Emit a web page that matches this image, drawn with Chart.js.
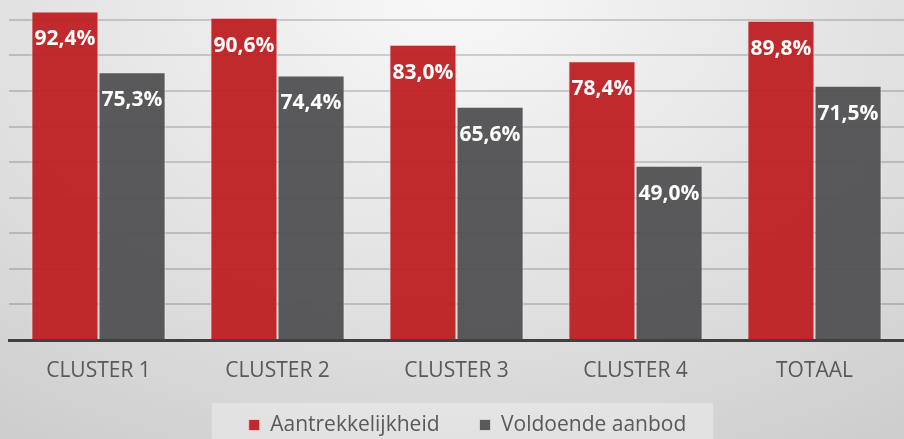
<!DOCTYPE html>
<html>
<head>
<meta charset="utf-8">
<script src="https://cdn.jsdelivr.net/npm/chart.js@4"></script>
<style>
  html, body { margin: 0; padding: 0; }
  body {
    width: 904px; height: 439px; overflow: hidden;
    background: radial-gradient(ellipse 95% 130% at 50% 0%, #f8f8f8 0%, #e0e0e0 55%, #c9c9c9 100%);
  }
  #wrap { position: relative; width: 904px; height: 439px; }
</style>
</head>
<body>
<div id="wrap"><canvas id="chart1"></canvas></div>
<script>
const categories = ['CLUSTER 1', 'CLUSTER 2', 'CLUSTER 3', 'CLUSTER 4', 'TOTAAL'];
const aantrekkelijkheid = [92.4, 90.6, 83.0, 78.4, 89.8];
const voldoendeAanbod = [75.3, 74.4, 65.6, 49.0, 71.5];
const seriesNames = ['Aantrekkelijkheid', 'Voldoende aanbod'];

const red = 'rgba(190, 30, 32, 0.94)';
const grey = 'rgba(80, 80, 82, 0.94)';
const textGrey = '#595959';
const font = '"Open Sans", "DejaVu Sans", sans-serif';

function pct(v) {
    return v.toFixed(1).replace('.', ',') + '%';
}

// white labels inside the top of each bar
const barLabels = {
    id: 'barLabels',
    afterDraw(chart) {
        const ctx = chart.ctx;
        ctx.save();
        ctx.fillStyle = '#ffffff';
        ctx.font = 'bold 21px ' + font;
        ctx.textAlign = 'center';
        ctx.textBaseline = 'middle';
        chart.data.datasets.forEach((ds, i) => {
            chart.getDatasetMeta(i).data.forEach((bar, j) => {
                ctx.fillText(pct(ds.data[j]), bar.x, bar.y + 28);
            });
        });
        ctx.restore();
    }
};

// legend sits a little right of centre and higher up, on a lighter panel
const legendPanel = {
    id: 'legendPanel',
    afterLayout(chart) {
        const lg = chart.legend;
        lg.left += 11;
        lg.right += 11;
        const h = lg.height;
        lg.top = 374.5;
        lg.bottom = lg.top + h;
    },
    beforeDraw(chart) {
        const lg = chart.legend;
        if (!lg || !lg.legendHitBoxes || !lg.legendHitBoxes.length) return;
        const boxes = lg.legendHitBoxes;
        const first = boxes[0], last = boxes[boxes.length - 1];
        const ctx = chart.ctx;
        ctx.save();
        ctx.fillStyle = 'rgba(255,255,255,0.32)';
        ctx.fillRect(first.left - 37, 403, (last.left + last.width + 27) - (first.left - 37), 40);
        ctx.restore();
    }
};

new Chart(document.getElementById('chart1'), {
    type: 'bar',
    data: {
        labels: categories,
        datasets: [
            { label: seriesNames[0], data: aantrekkelijkheid, backgroundColor: red, borderColor: 'rgba(255,210,210,0.8)', borderWidth: 1 },
            { label: seriesNames[1], data: voldoendeAanbod, backgroundColor: grey, borderColor: 'rgba(235,235,235,0.7)', borderWidth: 1 }
        ]
    },
    options: {
        responsive: true,
        maintainAspectRatio: false,
        animation: false,
        layout: { padding: { left: 9, right: 0, top: 0, bottom: -17 } },
        datasets: { bar: { barPercentage: 1.0, categoryPercentage: 0.75 } },
        scales: {
            x: {
                grid: { display: false, drawTicks: false },
                border: { display: true, color: '#404040', width: 3 },
                ticks: { color: textGrey, font: { family: font, size: 21 }, padding: 18 },
                afterFit(scale) { scale.height = 45; }
            },
            y: {
                min: 0,
                max: 95.6,
                z: 1,
                ticks: { display: false, stepSize: 10 },
                border: { display: false },
                grid: {
                    drawTicks: false,
                    tickLength: 0,
                    lineWidth: 2,
                    color: (c) => (c.tick && c.tick.value > 0 && c.tick.value % 10 === 0) ? 'rgba(0,0,0,0.16)' : 'rgba(0,0,0,0)'
                },
                afterFit(scale) { scale.width = 0; }
            }
        },
        plugins: {
            legend: {
                position: 'bottom',
                labels: {
                    color: textGrey,
                    font: { family: font, size: 21 },
                    boxWidth: 11,
                    boxHeight: 11,
                    padding: 40
                }
            },
            tooltip: { enabled: false }
        }
    },
    plugins: [barLabels, legendPanel]
});
</script>
</body>
</html>
